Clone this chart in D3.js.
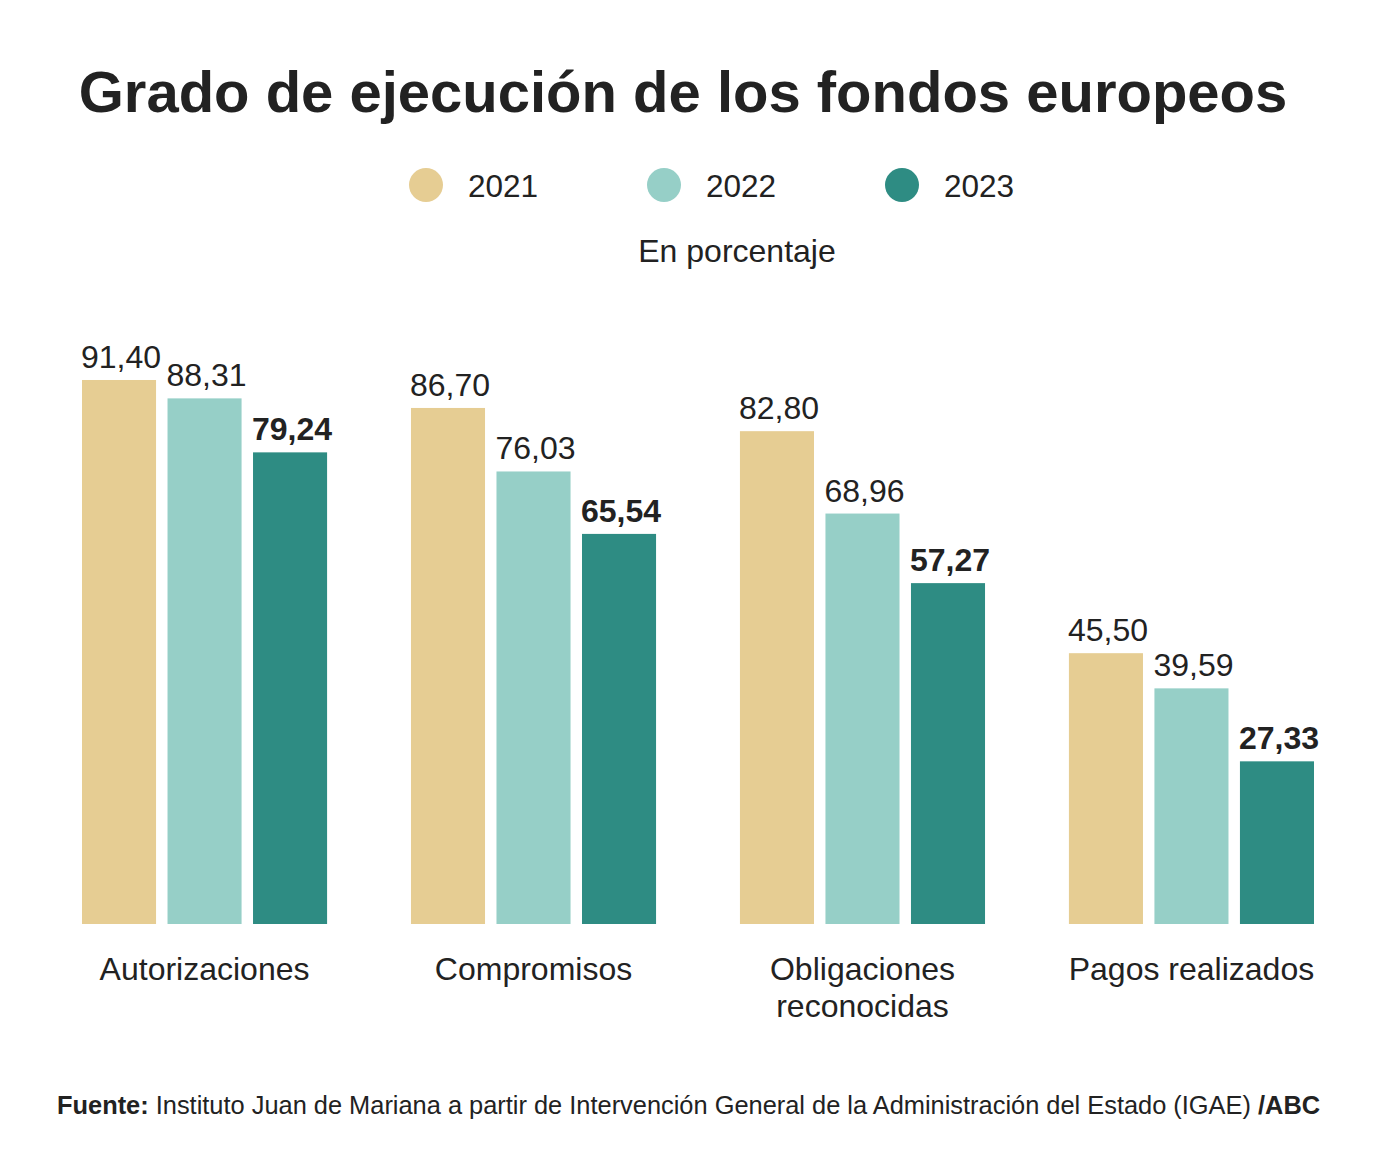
<!DOCTYPE html>
<html>
<head>
<meta charset="utf-8">
<script src="https://cdn.jsdelivr.net/npm/d3@7"></script>
<style>
  body { margin: 0; background: #fff; }
  svg { display: block; font-family: "Liberation Sans", Arial, Helvetica, sans-serif; }
  text { fill: #222; }
</style>
</head>
<body>
<div id="graph"></div>
<script>
var categories = ['Autorizaciones', 'Compromisos', 'Obligaciones reconocidas', 'Pagos realizados']
var years = ['2021', '2022', '2023']
var v2021 = [91.40, 86.70, 82.80, 45.50]
var v2022 = [88.31, 76.03, 68.96, 39.59]
var v2023 = [79.24, 65.54, 57.27, 27.33]
var colors = ['#e6cd93', '#96cfc7', '#2e8c83']

var width = 1400, height = 1174

var series = [v2021, v2022, v2023]
var rows = categories.map((c, i) => ({
  cat: c,
  vals: years.map((y, j) => ({year: y, j, v: series[j][i]}))
}))

var locale = d3.formatLocale({decimal: ',', thousands: '.', grouping: [3], currency: ['', '€']})
var fmt = locale.format('.2f')

var svg = d3.select('#graph').append('svg')
  .attr('width', width)
  .attr('height', height)

svg.append('rect').attr('width', width).attr('height', height).attr('fill', '#fff')

// titulo
svg.append('text')
  .attr('x', 683).attr('y', 112)
  .attr('text-anchor', 'middle')
  .style('font-size', '58px')
  .style('font-weight', 700)
  .text('Grado de ejecución de los fondos europeos')

// leyenda
var legendX = d3.scalePoint().domain(years).range([426, 902])
var leg = svg.selectAll('g.legend').data(years).join('g')
  .attr('class', 'legend')
  .attr('transform', d => `translate(${legendX(d)},185)`)
leg.append('circle').attr('r', 17).attr('fill', (d, i) => colors[i])
leg.append('text')
  .attr('x', 42).attr('y', 12)
  .style('font-size', '31.5px')
  .text(d => d)

svg.append('text')
  .attr('x', 737).attr('y', 262)
  .attr('text-anchor', 'middle')
  .style('font-size', '32px')
  .text('En porcentaje')

// escalas
var x0 = d3.scaleBand().domain(categories).range([82, 1314]).paddingInner(0.255).paddingOuter(0)
var x1 = d3.scaleBand().domain(years).range([0, x0.bandwidth()]).paddingInner(0.134)
var y = d3.scaleLinear().domain([0, 100]).range([924, 328.8])

var groups = svg.selectAll('g.group').data(rows).join('g')
  .attr('class', 'group')
  .attr('transform', d => `translate(${x0(d.cat)},0)`)

groups.selectAll('rect').data(d => d.vals).join('rect')
  .attr('x', d => x1(d.year))
  .attr('y', d => y(d.v))
  .attr('width', x1.bandwidth())
  .attr('height', d => y(0) - y(d.v))
  .attr('fill', d => colors[d.j])

groups.selectAll('text.val').data(d => d.vals).join('text')
  .attr('class', 'val')
  .attr('x', d => x1(d.year) + x1.bandwidth() / 2 + 2)
  .attr('y', d => y(d.v) - 12)
  .attr('text-anchor', 'middle')
  .style('font-size', '32px')
  .style('font-weight', d => d.j == 2 ? 700 : 400)
  .text(d => fmt(d.v))

// etiquetas de categoria
var catText = groups.append('text')
  .attr('x', x0.bandwidth() / 2)
  .attr('y', 980)
  .attr('text-anchor', 'middle')
  .style('font-size', '32px')
catText.selectAll('tspan')
  .data(d => d.cat.length > 16 ? d.cat.split(' ') : [d.cat])
  .join('tspan')
  .attr('x', x0.bandwidth() / 2)
  .attr('dy', (d, i) => i ? 37 : 0)
  .text(d => d)

// fuente
var src = svg.append('text')
  .attr('x', 57).attr('y', 1114)
  .style('font-size', '25.4px')
src.append('tspan').style('font-weight', 700).text('Fuente:')
src.append('tspan').text(' Instituto Juan de Mariana a partir de Intervención General de la Administración del Estado (IGAE) ')
src.append('tspan').style('font-weight', 700).text('/ABC')
</script>
</body>
</html>
